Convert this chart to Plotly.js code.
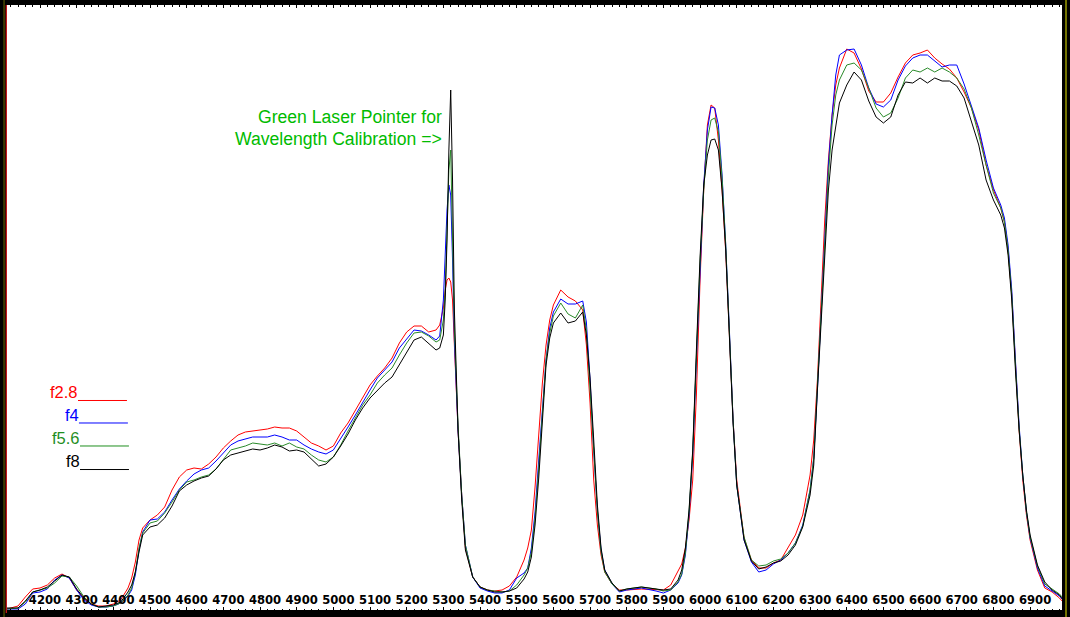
<!DOCTYPE html>
<html>
<head>
<meta charset="utf-8">
<script src="https://cdn.plot.ly/plotly-3.0.1.min.js"></script>
<style>
  html, body { margin: 0; padding: 0; background: #000; }
  #chart { width: 1070px; height: 617px; }
</style>
</head>
<body>
<div id="chart"></div>
<script>
// Wavelength grid (Angstrom)
const wavelength = [
  4110,4140,4160,4180,4200,4220,4240,4260,4280,4300,4320,4340,4360,4380,4400,4420,4440,
  4450,4460,4470,4480,
  4500,4520,4540,4560,4580,4600,4620,4640,4660,4680,4700,4720,4740,4760,4780,4800,4820,4840,4860,4880,
  4900,4920,4940,4960,4980,5000,5020,5040,5060,5080,5100,5120,5140,5160,5180,5200,5220,5240,5260,5280,
  5290,5300,5305,5310,5315,5320,5325,5330,
  5340,5350,5360,
  5380,5400,5420,5440,5460,5480,5500,5520,
  5530,5540,5550,5560,5570,5580,5590,5600,
  5620,5640,5660,5680,
  5690,5700,5710,5720,5730,5740,
  5760,5780,5800,
  5840,5880,5900,5920,5940,
  5950,5960,5970,5980,5990,6000,6010,6020,6030,6040,6050,6060,6070,6080,6090,6100,
  6120,6140,6160,6180,6200,6220,6240,6260,6280,6300,
  6310,6320,6330,6340,6350,6360,6370,6380,
  6400,6420,6440,6460,6480,6500,6520,6540,6560,6580,6600,6620,6640,6660,6680,6700,6720,6740,6760,6780,6800,6820,
  6830,6840,6850,6860,6870,6880,6890,6900,
  6920,6940,6960,6980,6990
];

// Relative intensity (arbitrary units) for each aperture
const f2_8 = [
  1,4,13,21,22,25,32,36,32,20,11,6,4,4,6,10,22,
  32,48,70,82,
  90,95,103,120,133,140,142,141,146,153,162,169,175,178,179,180,181,183,182,182,
  179,173,167,164,160,164,177,187,200,213,225,234,242,252,267,278,284,284,278,280,
  285,302,320,330,332,328,310,265,
  180,115,62,
  33,23,20,19,20,24,33,50,
  62,80,123,180,227,265,290,305,
  320,313,309,300,
  265,207,130,85,55,38,
  26,20,20,
  21,20,20,25,38,
  46,62,90,130,215,330,420,485,505,502,470,420,358,275,190,130,
  72,50,42,42,47,50,62,75,95,135,
  170,230,310,390,450,495,525,542,
  561,557,541,519,508,508,517,533,547,555,557,560,552,546,541,532,518,502,480,445,420,402,
  388,360,315,245,180,130,95,70,
  40,22,18,12,8
];
const f4 = [
  1,1,6,17,18,21,30,35,32,20,10,5,3,3,4,7,14,
  20,35,60,78,
  90,91,98,110,121,129,136,140,142,149,157,165,169,171,173,173,173,175,173,170,
  170,165,161,158,156,160,171,183,195,208,220,232,240,248,262,271,280,279,275,270,
  274,310,355,400,425,415,350,270,
  180,115,65,
  33,22,19,17,17,20,32,37,
  42,62,98,150,205,250,282,298,
  311,306,306,309,
  288,230,160,100,60,40,
  26,18,20,
  22,19,17,20,27,
  35,55,95,155,250,345,425,480,503,502,485,435,365,280,190,125,
  70,48,38,40,46,50,57,67,85,120,
  152,220,300,375,445,495,535,555,
  560,561,545,522,506,503,510,530,544,552,555,555,549,543,545,545,526,504,482,450,422,405,
  392,365,320,250,185,135,98,72,
  42,24,19,14,10
];
const f5_6 = [
  1,2,8,18,20,22,27,34,33,24,13,6,3,3,4,7,15,
  22,38,62,77,
  87,89,97,108,120,128,130,133,135,141,151,160,162,164,167,166,165,167,164,167,
  163,161,155,150,148,153,165,179,192,205,215,227,235,242,255,267,277,278,274,268,
  270,290,320,380,440,460,380,280,
  185,115,65,
  33,23,20,19,18,19,25,35,
  42,58,92,142,200,250,277,294,
  307,296,292,305,
  280,225,160,98,58,38,
  26,19,21,
  23,21,19,20,28,
  36,57,98,158,255,348,420,470,490,492,478,432,365,280,190,125,
  73,50,44,45,49,51,57,67,84,120,
  152,225,300,370,435,485,515,530,
  545,547,540,522,502,493,497,512,532,540,538,542,538,542,538,532,521,502,475,445,417,402,
  388,360,315,245,182,135,98,73,
  44,26,21,16,12
];
const f8 = [
  2,2,9,18,20,23,29,35,33,21,12,6,3,4,5,8,18,
  25,38,58,75,
  83,85,92,104,119,125,129,132,134,141,150,155,157,159,161,160,162,165,163,159,
  160,158,151,144,146,153,164,176,190,202,212,220,227,233,245,258,270,273,266,260,
  262,275,310,370,460,520,430,300,
  180,110,60,
  33,23,20,18,18,19,22,31,
  38,53,85,132,192,245,272,287,
  297,287,289,298,
  275,232,170,105,62,40,
  27,19,21,
  23,21,20,21,30,
  40,62,100,160,260,353,425,455,470,471,460,420,360,275,187,125,
  70,49,41,43,47,49,55,65,83,115,
  145,220,290,360,420,460,482,507,
  525,538,530,509,493,487,493,515,528,527,532,527,532,529,529,524,512,489,465,430,410,395,
  382,355,310,240,180,135,100,75,
  45,28,20,15,10
];

const seriesNames = ["f2.8", "f4", "f5.6", "f8"];
const seriesColors = ["#ff0000", "#0000ff", "#2a8a2a", "#000000"];
const legendColors = ["#ff0000", "#0000ff", "#1f8f1f", "#000000"];
const tickLabels = ["4200","4300","4400","4500","4600","4700","4800","4900","5000","5100","5200","5300","5400","5500","5600","5700","5800","5900","6000","6100","6200","6300","6400","6500","6600","6700","6800","6900"];
const tickValues = tickLabels.map(Number);
const calibrationNote = ["Green Laser Pointer for", "Wavelength Calibration =>"];

const allSeries = [f2_8, f4, f5_6, f8];
allSeries.forEach((s, i) => {
  if (s.length !== wavelength.length) {
    throw new Error("length mismatch in " + seriesNames[i] + ": " + s.length + " vs " + wavelength.length);
  }
});

const traces = allSeries.map((ys, i) => ({
  x: wavelength,
  y: ys,
  type: "scatter",
  mode: "lines",
  name: seriesNames[i],
  line: { color: seriesColors[i], width: 1 },
  hoverinfo: "skip"
}));

// legend: text on the left, short line segment right after it (paper coords)
const legendY = [0.3600, 0.3220, 0.2840, 0.2460];
const legendLineY = [0.3463, 0.3091, 0.2711, 0.2322];
const legendLineStart = [0.0673, 0.0682, 0.0692, 0.0692];

const annotations = [];
const shapes = [];
seriesNames.forEach((n, i) => {
  annotations.push({
    xref: "paper", yref: "paper", x: legendLineStart[i] + 0.0022, y: legendY[i],
    xanchor: "right", yanchor: "middle", showarrow: false, text: n,
    font: { family: "Liberation Sans, Arial, sans-serif", size: 16.5, color: legendColors[i] }
  });
  shapes.push({
    type: "line", xref: "paper", yref: "paper",
    x0: legendLineStart[i], x1: legendLineStart[i] + 0.0464,
    y0: legendLineY[i], y1: legendLineY[i],
    line: { color: legendColors[i], width: 1 }
  });
});

calibrationNote.forEach((t, k) => {
  annotations.push({
    xref: "paper", yref: "paper", x: 0.4140, y: k === 0 ? 0.8157 : 0.7785,
    xanchor: "right", yanchor: "middle", showarrow: false, text: t,
    font: { family: "Liberation Sans, Arial, sans-serif", size: 17.6, color: "#00bb00" }
  });
});

// frame decorations outside the plot area
shapes.push({ type: "line", xref: "paper", yref: "paper", x0: -0.0028, x1: -0.0028, y0: -0.02, y1: 1.01,
  line: { color: "#6b6b00", width: 1 } });
shapes.push({ type: "line", xref: "paper", yref: "paper", x0: -0.0007, x1: -0.0007, y0: -0.005, y1: 1.0,
  line: { color: "#ff2020", width: 1 } });
shapes.push({ type: "line", xref: "paper", yref: "paper", x0: 1.0038, x1: 1.0038, y0: -0.02, y1: 1.01,
  line: { color: "#9a9a00", width: 1.5 } });

const layout = {
  width: 1070, height: 617,
  margin: { l: 7, r: 8, t: 5, b: 7, pad: 0 },
  paper_bgcolor: "#000000",
  plot_bgcolor: "#ffffff",
  showlegend: false,
  xaxis: {
    range: [4110, 6987],
    tickmode: "array",
    tickvals: tickValues,
    ticktext: tickLabels,
    ticks: "inside",
    ticklen: 3,
    tickwidth: 1,
    tickcolor: "#000000",
    showline: true,
    linecolor: "#000000",
    linewidth: 1,
    mirror: "ticks",
    showgrid: false,
    zeroline: false,
    ticklabelposition: "inside",
    ticklabelshift: 5,
    ticklabelstandoff: 0,
    tickfont: { family: "DejaVu Sans, Verdana, sans-serif", size: 11.6, color: "#000000", weight: "bold" },
    minor: { dtick: 20, tick0: 4200, ticks: "inside", ticklen: 1.5, tickcolor: "#000000", showgrid: false }
  },
  yaxis: {
    range: [0, 605],
    visible: false,
    showgrid: false,
    zeroline: false,
    fixedrange: true
  },
  annotations: annotations,
  shapes: shapes
};

Plotly.newPlot("chart", traces, layout, { staticPlot: true, displayModeBar: false });
</script>
</body>
</html>
